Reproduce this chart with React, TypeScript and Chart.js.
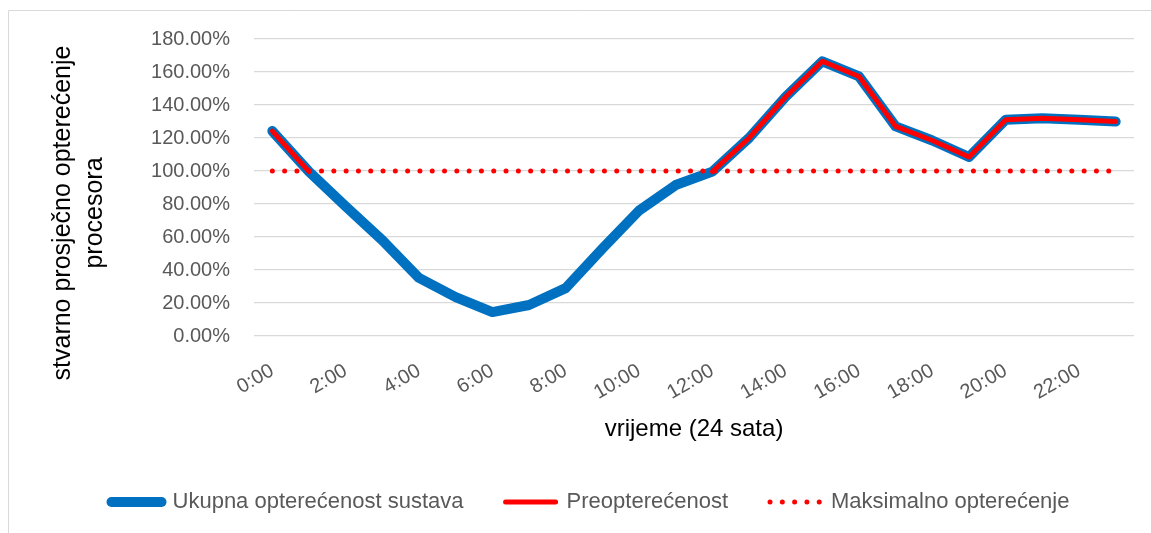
import React, { useEffect, useRef } from 'react';
import { Chart, registerables } from 'chart.js';

Chart.register(...registerables);

const hours = [
  '0:00', '1:00', '2:00', '3:00', '4:00', '5:00', '6:00', '7:00', '8:00', '9:00', '10:00', '11:00',
  '12:00', '13:00', '14:00', '15:00', '16:00', '17:00', '18:00', '19:00', '20:00', '21:00', '22:00', '23:00',
];

const ukupnaOpterecenost = [
  124.2, 99.6, 78.5, 58.0, 35.2, 23.6, 14.5, 18.8, 29.0, 53.0, 76.0, 91.5,
  99.6, 120.0, 145.0, 166.5, 157.3, 127.0, 118.5, 108.5, 131.0, 132.0, 131.0, 130.0,
];

const preopterecenost = [
  124.2, 99.6, null, null, null, null, null, null, null, null, null, null,
  99.6, 120.0, 145.0, 166.5, 157.3, 127.0, 118.5, 108.5, 131.0, 132.0, 131.0, 130.0,
];

const maksimalnoOpterecenje = [
  100, 100, 100, 100, 100, 100, 100, 100, 100, 100, 100, 100,
  100, 100, 100, 100, 100, 100, 100, 100, 100, 100, 100, 100,
];

const seriesNames = ['Ukupna opterećenost sustava', 'Preopterećenost', 'Maksimalno opterećenje'];
const yTitleLines = ['stvarno prosječno opterećenje', 'procesora'];
const xTitle = 'vrijeme (24 sata)';
const yMin = 0;
const yMax = 180;
const yStep = 20;

const FONT = '"Liberation Sans", Arial, sans-serif';
const BLUE = '#0070C0';
const RED = '#FF0000';
const GRID = '#D9D9D9';
const TICK = '#595959';
const DOTS = [0, 12.3];

const framePlugin = {
  id: 'frameAndYTitle',
  beforeDraw(chart: any) {
    const ctx = chart.ctx;
    ctx.save();
    ctx.fillStyle = '#ffffff';
    ctx.fillRect(0, 0, chart.width, chart.height);
    ctx.strokeStyle = GRID;
    ctx.lineWidth = 1;
    ctx.beginPath();
    ctx.moveTo(8.5, chart.height);
    ctx.lineTo(8.5, 10.5);
    ctx.lineTo(chart.width, 10.5);
    ctx.stroke();
    ctx.restore();
  },
  afterDraw(chart: any) {
    const ctx = chart.ctx;
    const centerY = 213;
    const xs = [63, 95];
    ctx.save();
    ctx.fillStyle = '#000000';
    ctx.font = `25px ${FONT}`;
    ctx.textAlign = 'center';
    ctx.textBaseline = 'middle';
    yTitleLines.forEach((line, i) => {
      ctx.save();
      ctx.translate(xs[i], centerY);
      ctx.rotate(-Math.PI / 2);
      ctx.fillText(line, 0, 0);
      ctx.restore();
    });
    ctx.restore();
  },
};

export default function App() {
  const canvasRef = useRef<HTMLCanvasElement | null>(null);

  useEffect(() => {
    if (!canvasRef.current) return;
    const chart = new Chart(canvasRef.current, {
      type: 'line',
      data: {
        labels: hours,
        datasets: [
          {
            label: seriesNames[0],
            data: ukupnaOpterecenost,
            borderColor: BLUE,
            backgroundColor: BLUE,
            borderWidth: 10,
            borderCapStyle: 'round',
            borderJoinStyle: 'round',
            pointRadius: 0,
            tension: 0,
            order: 2,
          },
          {
            label: seriesNames[1],
            data: preopterecenost,
            borderColor: RED,
            backgroundColor: RED,
            borderWidth: 5,
            borderCapStyle: 'round',
            borderJoinStyle: 'round',
            pointRadius: 0,
            tension: 0,
            spanGaps: false,
            order: 1,
          },
          {
            label: seriesNames[2],
            data: maksimalnoOpterecenje,
            borderColor: RED,
            backgroundColor: RED,
            borderWidth: 5,
            borderDash: DOTS,
            borderCapStyle: 'round',
            pointRadius: 0,
            tension: 0,
            order: 0,
          },
        ],
      },
      options: {
        responsive: false,
        animation: false,
        devicePixelRatio: 1,
        layout: { padding: { left: 45, right: 15, top: 39, bottom: 10 } },
        plugins: {
          tooltip: { enabled: false },
          title: { display: false },
          legend: {
            display: true,
            position: 'bottom',
            labels: {
              usePointStyle: true,
              pointStyleWidth: 50,
              boxHeight: 22,
              padding: 42,
              color: TICK,
              font: { family: FONT, size: 22 },
              generateLabels: () => [
                { text: seriesNames[0], strokeStyle: BLUE, fillStyle: BLUE, lineWidth: 10, lineCap: 'round', pointStyle: 'line', fontColor: TICK, datasetIndex: 0, hidden: false },
                { text: seriesNames[1], strokeStyle: RED, fillStyle: RED, lineWidth: 5, lineCap: 'round', pointStyle: 'line', fontColor: TICK, datasetIndex: 1, hidden: false },
                { text: seriesNames[2], strokeStyle: RED, fillStyle: RED, lineWidth: 5, lineCap: 'round', lineDash: DOTS, pointStyle: 'line', fontColor: TICK, datasetIndex: 2, hidden: false },
              ] as any,
            },
          },
        },
        scales: {
          x: {
            type: 'category',
            offset: true,
            grid: { display: false, drawTicks: false },
            border: { display: false },
            ticks: {
              autoSkip: false,
              minRotation: 30,
              maxRotation: 30,
              padding: 23,
              color: TICK,
              font: { family: FONT, size: 20 },
              callback: (_v: any, i: number) => (i % 2 === 0 ? hours[i] : ''),
            },
            title: {
              display: true,
              text: xTitle,
              color: '#000000',
              font: { family: FONT, size: 24 },
              padding: { top: 0, bottom: 5 },
            },
            afterFit: (scale: any) => {
              scale.height = 113;
            },
          },
          y: {
            min: yMin,
            max: yMax,
            grid: { color: GRID, lineWidth: 1.3, drawTicks: false },
            border: { display: false },
            ticks: {
              stepSize: yStep,
              padding: 24,
              color: TICK,
              font: { family: FONT, size: 20 },
              callback: (v: any) => `${Number(v).toFixed(2)}%`,
            },
            afterFit: (scale: any) => {
              scale.width = 209;
            },
          },
        },
      },
      plugins: [framePlugin],
    });
    return () => chart.destroy();
  }, []);

  return (
    <div style={{ position: 'absolute', left: 0, top: 0, width: 1151, height: 533, background: '#fff' }}>
      <canvas ref={canvasRef} width={1151} height={533} style={{ width: 1151, height: 533, display: 'block' }} />
    </div>
  );
}
